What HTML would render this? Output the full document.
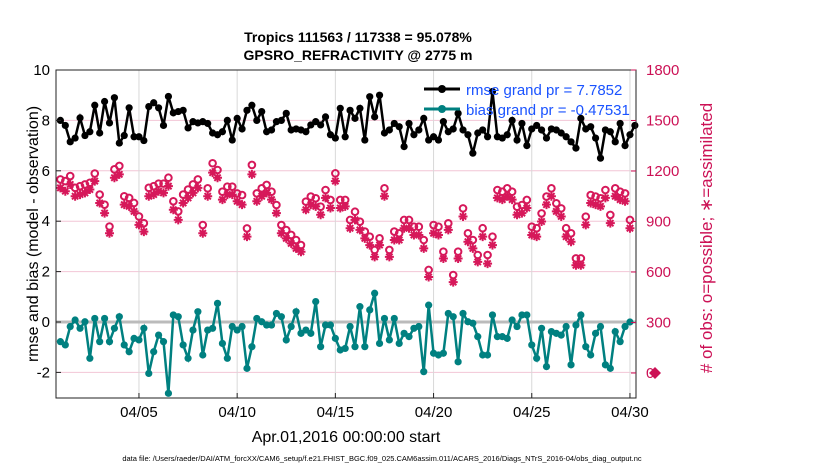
<!DOCTYPE html>
<html><head><meta charset="utf-8"><style>
body{margin:0;background:#fff;font-family:"Liberation Sans",sans-serif}
svg{display:block}
</style></head><body>
<svg id="chart" width="830" height="470" xmlns="http://www.w3.org/2000/svg">
<text x="358" y="42" text-anchor="middle" font-size="14" font-weight="bold">Tropics 111563 / 117338 = 95.078%</text>
<text x="358" y="60" text-anchor="middle" font-size="14" font-weight="bold">GPSRO_REFRACTIVITY @ 2775 m</text>
<text transform="translate(38,234) rotate(-90)" text-anchor="middle" font-size="16">rmse and bias (model - observation)</text>
<text transform="translate(712,238) rotate(-90)" text-anchor="middle" font-size="17" fill="#cc1155"># of obs: o=possible; ∗=assimilated</text>
<text x="346" y="442" text-anchor="middle" font-size="16">Apr.01,2016 00:00:00 start</text>
<text x="382" y="461" text-anchor="middle" font-size="7.5">data file: /Users/raeder/DAI/ATM_forcXX/CAM6_setup/f.e21.FHIST_BGC.f09_025.CAM6assim.011/ACARS_2016/Diags_NTrS_2016-04/obs_diag_output.nc</text>
<g id="grid"></g><g id="marks"></g><g id="axes"></g>
<g>
<line x1="424" y1="89" x2="460" y2="89" stroke="#000" stroke-width="3"/><circle cx="442" cy="89" r="4" fill="#000"/>
<text x="466" y="95" font-size="15" fill="#1a53ff">rmse grand pr = 7.7852</text>
<line x1="424" y1="109" x2="460" y2="109" stroke="#008080" stroke-width="3"/><circle cx="442" cy="109" r="4" fill="#008080"/>
<text x="466" y="115" font-size="15" fill="#1a53ff">bias grand pr = -0.47531</text>
</g>
<path d="M655 367 L661 373 L655 379 L649 373 Z" fill="#cc1155"/>
</svg>
<script>
const rmse=[8.0,7.8,7.15,7.3,8.1,7.4,7.55,8.6,7.5,8.75,7.9,8.9,7.1,7.4,8.5,7.35,7.35,7.2,8.55,8.7,8.5,7.8,8.95,8.3,8.35,8.4,7.7,7.95,7.9,
7.95,7.88,7.5,7.43,7.55,8.0,7.22,8.08,7.66,8.4,8.6,8.0,8.35,7.55,7.62,7.95,8.0,8.28,7.62,7.66,7.62,7.55,7.82,7.95,7.82,8.14,7.43,7.3,8.48,
7.35,8.4,8.08,8.48,7.22,8.94,8.14,9.0,7.5,7.62,7.88,7.75,6.96,7.88,7.43,7.62,8.08,7.22,7.35,7.22,7.95,7.55,7.66,8.28,7.62,7.43,6.7,7.5,7.62,
7.35,9.15,7.35,7.3,7.43,8.0,7.22,7.88,7.0,7.66,7.8,7.62,7.3,7.66,7.62,7.5,7.35,7.15,6.9,8.08,7.66,7.75,7.3,6.5,7.62,7.55,7.15,7.88,7.0,7.43,7.8];
const bias=[-0.78,-0.91,-0.18,0.08,-0.25,0.01,-1.44,0.14,-0.78,0.14,-0.78,-0.25,0.21,-0.91,-1.18,-0.65,-0.71,-0.25,-2.04,-1.18,-0.52,-0.78,-2.83,0.28,0.21,-0.91,-1.44,-0.32,0.41,
-1.31,-0.32,-0.25,0.74,-0.85,-1.44,-0.18,-0.32,-0.18,-1.84,-0.98,0.14,0.01,-0.12,-0.12,0.34,0.21,-0.71,-0.18,0.41,-0.45,-0.32,-0.45,0.81,-0.98,-0.12,-0.12,-0.65,-1.11,
-1.05,-0.18,-0.98,0.61,-0.98,0.48,1.14,-0.85,0.14,-0.71,0.14,-0.85,-0.45,-0.58,-0.25,-0.18,-1.97,0.67,-1.24,-1.31,-1.24,0.34,0.21,-1.58,0.34,0.01,-0.05,-0.58,-1.31,
-1.31,0.28,-0.58,-0.58,-0.65,0.08,-0.18,0.28,0.28,-0.91,-1.44,-0.25,-1.77,-0.38,-0.45,-0.52,-0.18,-1.7,-0.12,0.28,-0.98,-1.31,-0.45,-0.18,-1.7,-1.84,-0.38,-0.78,-0.18,0.0];
const possible=[1150,1140,1170,1100,1110,1120,1130,1185,1060,1000,870,1210,1230,1050,1040,1010,930,890,1100,1110,1125,1125,1160,1020,960,1060,1090,1120,1150,
879,1097,1246,1206,1077,1107,1107,1067,1057,859,1236,1067,1097,1117,1077,998,879,849,820,790,760,1018,1048,1038,988,1087,1028,1186,1028,
1028,909,958,899,840,810,731,800,1097,731,840,830,909,909,869,869,790,612,879,869,721,889,582,721,978,830,790,701,860,
701,810,1087,1077,1097,1077,988,998,1028,869,860,948,1048,1097,1008,978,860,830,681,681,929,1057,1048,1038,1087,939,1097,1077,1067,909];
const assimilated=[1100,1080,1120,1050,1060,1070,1090,1140,1010,950,830,1160,1180,1000,990,960,880,840,1050,1060,1080,1070,1110,970,910,1010,1040,1070,1100,
830,1050,1190,1160,1030,1060,1060,1020,1000,810,1180,1020,1050,1070,1030,950,830,800,770,740,720,970,1000,990,940,1040,980,1140,980,
990,860,910,850,800,760,690,760,1050,690,790,790,860,860,820,820,740,570,830,820,680,850,540,680,930,780,740,660,810,
650,760,1040,1030,1050,1030,940,950,980,820,810,900,1000,1050,960,930,810,780,640,640,880,1010,1000,990,1040,890,1050,1030,1020,860];
const yTicks=[-2,0,2,4,6,8,10];
const rTicks=[0,300,600,900,1200,1500,1800];
const xTickLabels=['04/05','04/10','04/15','04/20','04/25','04/30'];
const xTickDays=[4,9,14,19,24,29];

const L=56,R=636,T=70,B=398;
const X=d=>60.4+d*19.64;
const Y=v=>322-v*25.2;
const YR=v=>373-v*303/1800;
const NS='http://www.w3.org/2000/svg';
function mk(parent,tag,attrs){const e=document.createElementNS(NS,tag);for(const k in attrs)e.setAttribute(k,attrs[k]);document.getElementById(parent).appendChild(e);return e;}

yTicks.forEach(v=>{const e=mk('grid','line',{x1:L,x2:R,y1:Y(v),y2:Y(v),stroke:'#f2c6d6','stroke-width':1});

});
xTickDays.forEach(d=>{const e=mk('grid','line',{x1:X(d),x2:X(d),y1:T,y2:B,stroke:'#d8d8d8','stroke-width':1});

});
const zl=mk('grid','line',{x1:L,x2:R,y1:Y(0),y2:Y(0),stroke:'#bbb','stroke-width':3});



possible.forEach((v,i)=>{const e=mk('marks','circle',{cx:X(i*0.25),cy:YR(v),r:3.3,fill:'none',stroke:'#d6185a','stroke-width':2});

});
assimilated.forEach((v,i)=>{const cx=X(i*0.25),cy=YR(v),r=4.5;
const d=`M${cx-r} ${cy}H${cx+r}M${cx} ${cy-r}V${cy+r}M${cx-r*0.7} ${cy-r*0.7}L${cx+r*0.7} ${cy+r*0.7}M${cx-r*0.7} ${cy+r*0.7}L${cx+r*0.7} ${cy-r*0.7}`;
const e=mk('marks','path',{d:d,stroke:'#d6185a','stroke-width':2,fill:'none'});

});

function series(arr,color,name){
 const p=mk('marks','polyline',{points:arr.map((v,i)=>X(i*0.25)+','+Y(v)).join(' '),fill:'none',stroke:color,'stroke-width':2.5});
 
 
 arr.forEach((v,i)=>{const c=mk('marks','circle',{cx:X(i*0.25),cy:Y(v),r:3.6,fill:color});
 
 });
}
series(rmse,'#000','rmse');
series(bias,'#008080','bias');

const fr=mk('axes','rect',{x:L,y:T,width:R-L,height:B-T,fill:'none',stroke:'#222','stroke-width':1});


yTicks.forEach(v=>{mk('axes','line',{x1:L,x2:L+5,y1:Y(v),y2:Y(v),stroke:'#222'});
const t=mk('axes','text',{x:L-6,y:Y(v)+5,'text-anchor':'end','font-size':15});t.textContent=v;

});
rTicks.forEach(v=>{mk('axes','line',{x1:R-5,x2:R,y1:YR(v),y2:YR(v),stroke:'#cc1155'});
const t=mk('axes','text',{x:R+10,y:YR(v)+5,'font-size':15,fill:'#cc1155'});t.textContent=v;

});
xTickDays.forEach((d,i)=>{mk('axes','line',{x1:X(d),x2:X(d),y1:B-5,y2:B,stroke:'#222'});
const t=mk('axes','text',{x:X(d),y:B+19,'text-anchor':'middle','font-size':15});t.textContent=xTickLabels[i];

});
</script>
</body></html>
